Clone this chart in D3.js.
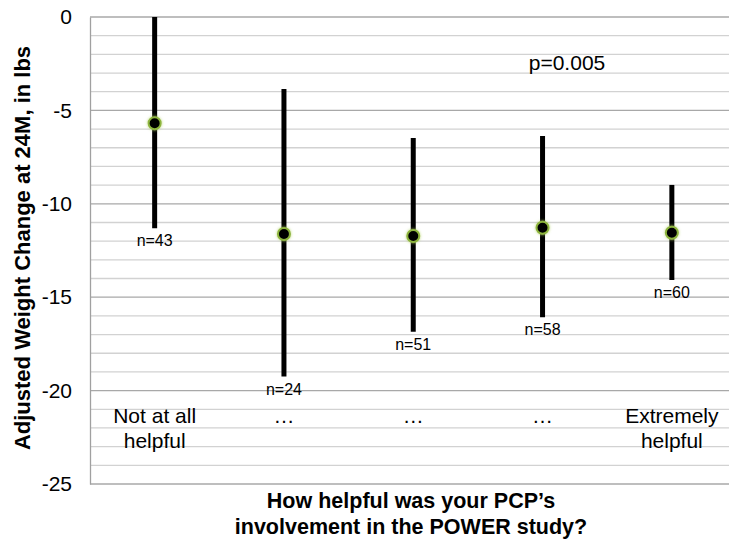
<!DOCTYPE html>
<html><head><meta charset="utf-8">
<script src="https://cdn.jsdelivr.net/npm/d3@7"></script>
<style>body{margin:0;background:#fff}svg{display:block}text{font-family:"Liberation Sans",Arial,sans-serif}</style>
</head><body>
<script>
const categories = ["Not at all|helpful", "…", "…", "…", "Extremely|helpful"];
const means = [-5.69, -11.62, -11.72, -11.28, -11.55];
const upper = [0, -3.85, -6.48, -6.37, -8.99];
const lower = [-11.31, -19.25, -16.85, -16.08, -14.08];
const nLabels = ["n=43", "n=24", "n=51", "n=58", "n=60"];
const yTicks = [0, -5, -10, -15, -20, -25];
const pText = "p=0.005";

const W = 729, H = 541;
const svg = d3.select("body").append("svg").attr("width", W).attr("height", H);
const defs = svg.append("defs");
const f = defs.append("filter").attr("id","glow").attr("x","-60%").attr("y","-60%").attr("width","220%").attr("height","220%");
f.append("feGaussianBlur").attr("in","SourceAlpha").attr("stdDeviation",1.6).attr("result","b");
f.append("feFlood").attr("flood-color","#b5d46a").attr("flood-opacity",0.9);
f.append("feComposite").attr("in2","b").attr("operator","in").attr("result","g");
const fm = f.append("feMerge"); fm.append("feMergeNode").attr("in","g"); fm.append("feMergeNode").attr("in","SourceGraphic");

const mLeft = 90, mTop = 17, mBottom = 484;
const x = d3.scaleBand().domain(d3.range(categories.length)).range([mLeft, mLeft + 5*129.3]);
const y = d3.scaleLinear().domain([-25, 0]).range([mBottom, mTop]);

// gridlines
const minor = d3.range(-25, 1, 1);
svg.append("g").selectAll("line").data(minor).join("line")
  .attr("x1", mLeft).attr("x2", W).attr("y1", d => y(d)).attr("y2", d => y(d))
  .attr("stroke", d => d % 5 === 0 ? "#a8a8a8" : "#d2d2d2").attr("stroke-width", 1.3);

// y axis
const yAxis = d3.axisLeft(y).tickValues(yTicks).tickSize(0).tickPadding(18).tickFormat(d => String(d));
const ga = svg.append("g").attr("transform", `translate(${mLeft},0)`).call(yAxis);
ga.select(".domain").attr("stroke", "#a0a0a0").attr("stroke-width", 1.3);
ga.selectAll("text").attr("font-size", 21).attr("fill", "#000").attr("font-family", '"Liberation Sans",Arial,sans-serif');

// error bars
const cx = i => x(i) + x.bandwidth()/2;
svg.append("g").selectAll("line").data(means).join("line")
  .attr("x1", (d,i) => cx(i)).attr("x2", (d,i) => cx(i))
  .attr("y1", (d,i) => y(upper[i])).attr("y2", (d,i) => y(lower[i]))
  .attr("stroke", "#000").attr("stroke-width", 5);

// markers
svg.append("g").selectAll("circle").data(means).join("circle")
  .attr("cx", (d,i) => cx(i)).attr("cy", d => y(d)).attr("r", 6)
  .attr("fill", "#000").attr("stroke", "#8db43e").attr("stroke-width", 2)
  .attr("filter", "url(#glow)");

// n labels
svg.append("g").selectAll("text").data(nLabels).join("text")
  .attr("x", (d,i) => cx(i)).attr("y", (d,i) => y(lower[i]) + 18)
  .attr("text-anchor", "middle").attr("font-size", 16).text(d => d);

// category labels
const cl = svg.append("g").selectAll("text").data(categories).join("text")
  .attr("text-anchor", "middle").attr("font-size", 21);
cl.each(function(d, i) {
  const parts = d.split("|");
  d3.select(this).selectAll("tspan").data(parts).join("tspan")
    .attr("x", cx(i)).attr("y", (p, j) => 423 + j * 25).text(p => p);
});

// p value
svg.append("text").attr("x", 567).attr("y", 70).attr("text-anchor", "middle")
  .attr("font-size", 21).text(pText);

// axis titles
const xt = svg.append("text").attr("text-anchor", "middle").attr("font-size", 21.5).attr("font-weight", "bold");
xt.append("tspan").attr("x", 411).attr("y", 508).text("How helpful was your PCP’s");
xt.append("tspan").attr("x", 411).attr("y", 534).text("involvement in the POWER study?");

svg.append("text").attr("transform", "translate(30,248) rotate(-90)").attr("text-anchor", "middle")
  .attr("font-size", 22).attr("font-weight", "bold").text("Adjusted Weight Change at 24M, in lbs");
</script>
</body></html>
